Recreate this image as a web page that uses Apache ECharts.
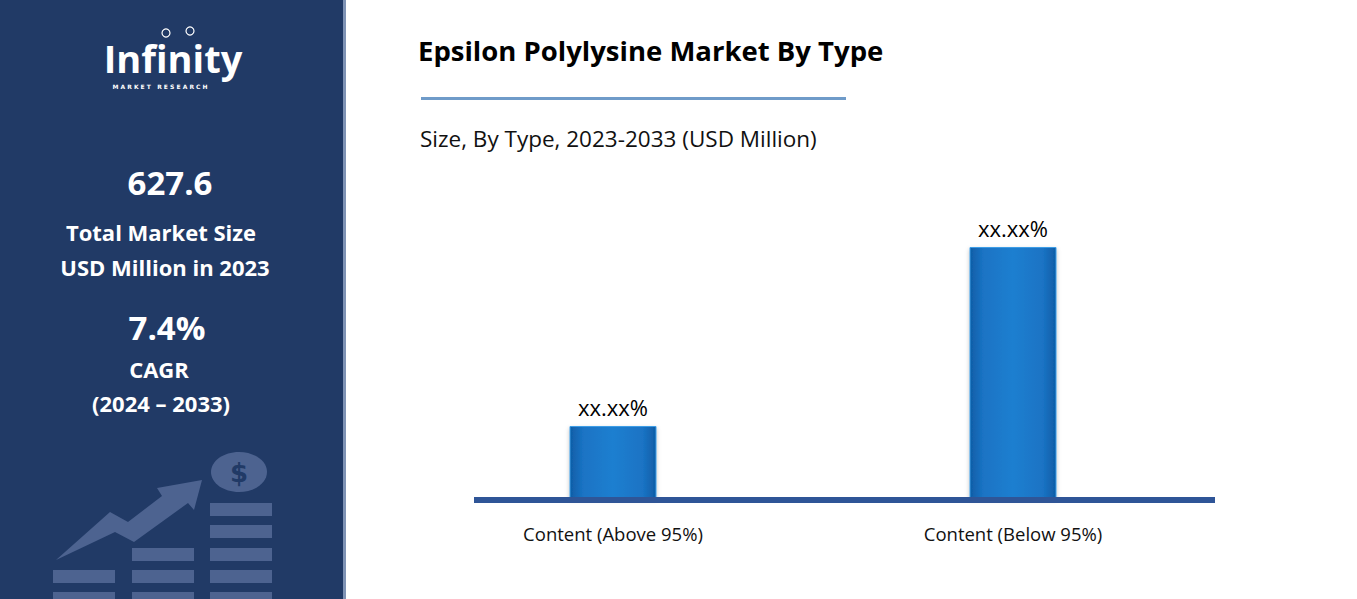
<!DOCTYPE html>
<html>
<head>
<meta charset="utf-8">
<script src="https://cdn.jsdelivr.net/npm/echarts@6/dist/echarts.min.js"></script>
<style>html,body{margin:0;padding:0;background:#fff}#main{width:1357px;height:599px}</style>
</head>
<body>
<div id="main"></div>
<script>
// chart data
var categories = ['Content (Above 95%)', 'Content (Below 95%)'];
var values = [72, 251];
var valueLabels = ['xx.xx%', 'xx.xx%'];

var panelTexts = ['627.6', 'Total Market Size', 'USD Million in 2023', '7.4%', 'CAGR', '(2024 \u2013 2033)'];

var ICON = '#4d6390';
var PANEL = '#213a66';

var myChart = echarts.init(document.getElementById('main'), null, {renderer: 'svg'});

function rows(x, ys) {
    return ys.map(function (y) {
        return {type: 'rect', shape: {x: x, y: y, width: 62, height: 13}, style: {fill: ICON}};
    });
}

var graphics = [
    {type: 'rect', shape: {x: 0, y: 0, width: 343, height: 599}, style: {fill: PANEL}},
    {type: 'rect', shape: {x: 343, y: 0, width: 3, height: 599}, style: {fill: '#7f93b5'}},
    // logo
    {type: 'text', x: 173, y: 58, style: {text: 'Infinity', fill: '#fff', font: 'bold 38px "Open Sans"', align: 'center', verticalAlign: 'middle'}},
    {type: 'text', x: 160, y: 86, style: {text: 'M A R K E T   R E S E A R C H', fill: '#fff', font: 'bold 6px "DejaVu Sans"', align: 'center', verticalAlign: 'middle'}},
    {type: 'circle', shape: {cx: 166, cy: 33, r: 4}, style: {fill: 'none', stroke: '#fff', lineWidth: 1.2}},
    {type: 'circle', shape: {cx: 190, cy: 31, r: 4}, style: {fill: 'none', stroke: '#fff', lineWidth: 1.2}},
    // panel texts
    {type: 'text', x: 170, y: 182, style: {text: panelTexts[0], fill: '#fff', font: 'bold 33px "Open Sans"', align: 'center', verticalAlign: 'middle'}},
    {type: 'text', x: 161, y: 232, style: {text: panelTexts[1], fill: '#fff', font: 'bold 22px "Open Sans"', align: 'center', verticalAlign: 'middle'}},
    {type: 'text', x: 165, y: 267, style: {text: panelTexts[2], fill: '#fff', font: 'bold 22px "Open Sans"', align: 'center', verticalAlign: 'middle'}},
    {type: 'text', x: 167, y: 327, style: {text: panelTexts[3], fill: '#fff', font: 'bold 33px "Open Sans"', align: 'center', verticalAlign: 'middle'}},
    {type: 'text', x: 159, y: 369, style: {text: panelTexts[4], fill: '#fff', font: 'bold 22px "Open Sans"', align: 'center', verticalAlign: 'middle'}},
    {type: 'text', x: 161, y: 403, style: {text: panelTexts[5], fill: '#fff', font: 'bold 22px "Open Sans"', align: 'center', verticalAlign: 'middle'}},
    // icon
    {type: 'ellipse', shape: {cx: 239, cy: 472, rx: 28, ry: 20}, style: {fill: ICON}},
    {type: 'text', x: 239, y: 473, style: {text: '$', fill: PANEL, font: 'bold 26px "DejaVu Sans"', align: 'center', verticalAlign: 'middle'}},
    {type: 'polygon', shape: {points: [[56, 560], [110, 512], [128, 522], [162, 496], [157, 488], [202, 480], [194, 510], [188, 503], [134, 542], [115, 532]]}, style: {fill: ICON}},
    // chart title
    {type: 'text', x: 418, y: 50, style: {text: 'Epsilon Polylysine Market By Type', fill: '#000', font: 'bold 27.5px "Open Sans"', verticalAlign: 'middle'}},
    {type: 'rect', shape: {x: 421, y: 97, width: 425, height: 3}, style: {fill: '#6f9bc9'}},
    {type: 'text', x: 420, y: 138, style: {text: 'Size, By Type, 2023-2033 (USD Million)', fill: '#111', font: '22.5px "Open Sans"', verticalAlign: 'middle'}},
    // baseline
    {type: 'rect', shape: {x: 474, y: 497, width: 741, height: 6}, style: {fill: '#2f5597'}, z: 10}
].concat(rows(53, [570, 592]), rows(132, [548, 570, 592]), rows(210, [503, 525, 548, 570, 592]));

var option = {
    animation: false,
    graphic: graphics,
    grid: {left: 413, right: 144, top: 198, bottom: 101},
    xAxis: {
        type: 'category',
        data: categories,
        axisLine: {show: false},
        axisTick: {show: false},
        axisLabel: {color: '#111', fontSize: 18.5, fontFamily: 'Open Sans', margin: 26}
    },
    yAxis: {type: 'value', min: 0, max: 300, show: false},
    series: [{
        type: 'bar',
        data: values,
        barWidth: 87,
        itemStyle: {
            color: new echarts.graphic.LinearGradient(0, 0, 1, 0, [
                {offset: 0, color: '#0f5da6'},
                {offset: 0.15, color: '#1a73c4'},
                {offset: 0.5, color: '#1f7fd0'},
                {offset: 0.85, color: '#1a73c4'},
                {offset: 1, color: '#0f5da6'}
            ]),
            borderColor: '#3d9de6',
            borderWidth: 1,
            shadowColor: 'rgba(0,0,0,0.25)',
            shadowBlur: 4,
            shadowOffsetY: 2
        },
        label: {
            show: true,
            position: 'top',
            distance: 8,
            color: '#000',
            fontSize: 22,
            fontFamily: 'Open Sans',
            formatter: function (p) { return valueLabels[p.dataIndex]; }
        }
    }]
};
myChart.setOption(option);
</script>
</body>
</html>
